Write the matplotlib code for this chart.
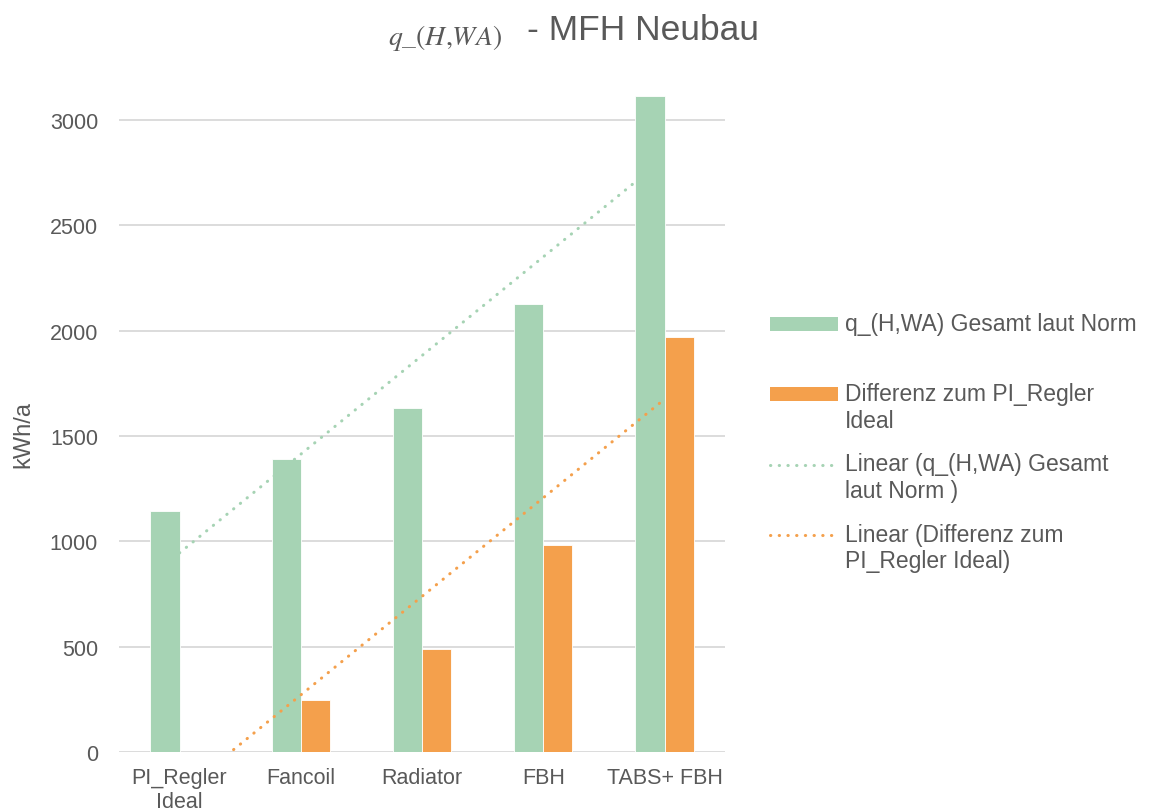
import numpy as np
import matplotlib
matplotlib.use("Agg")
import matplotlib.pyplot as plt
from matplotlib.patches import Patch
from matplotlib.lines import Line2D

plt.rcParams["font.family"] = ["Liberation Sans", "DejaVu Sans"]
plt.rcParams["mathtext.fontset"] = "stix"

# heating demand per controller / system variant
categories = ["PI_Regler\nIdeal", "Fancoil", "Radiator", "FBH", "TABS+ FBH"]
q_gesamt = [1142, 1389, 1634, 2128, 3114]
q_differenz = [0, 247, 490, 984, 1971]
yticks = [0, 500, 1000, 1500, 2000, 2500, 3000]

GREEN = "#A6D3B4"
ORANGE = "#F4A04C"
GREY = "#595959"
GRID = "#D9D9D9"

fig = plt.figure(figsize=(11.58, 8.12), dpi=100)
ax = fig.add_axes([0.1027, 0.0727, 0.5235, 0.8096])

x = np.arange(len(categories))
w = 0.24
ax.bar(x - w / 2, q_gesamt, width=w, color=GREEN, edgecolor="white", linewidth=0.6, zorder=2)
ax.bar(x + w / 2, q_differenz, width=w, color=ORANGE, edgecolor="white", linewidth=0.6, zorder=2)

# linear trend lines (least squares over category index)
dots = (0, (0.1, 2.75))
lw_trend = 2.2
for vals, col in [(q_gesamt, GREEN), (q_differenz, ORANGE)]:
    k, d = np.polyfit(x, vals, 1)
    ax.plot(x, k * x + d, color=col, linewidth=lw_trend, linestyle=dots,
            dash_capstyle="round", zorder=3)

ax.set_xlim(-0.5, 4.5)
ax.set_ylim(0, 3120)
ax.set_yticks(yticks)
ax.set_xticks(x)
ax.set_xticklabels(categories)
ax.yaxis.grid(True, color=GRID, linewidth=1.3, zorder=0)
ax.set_axisbelow(True)
for s in ax.spines.values():
    s.set_visible(False)
ax.tick_params(axis="both", length=0, labelsize=15.5, labelcolor=GREY)
ax.tick_params(axis="y", pad=15)
ax.tick_params(axis="x", pad=11)
for lbl in ax.get_xticklabels():
    lbl.set_linespacing(1.15)

ax.set_ylabel("kWh/a", fontsize=17, color=GREY)
ax.yaxis.set_label_coords(-0.14, 0.485)

# title: formula part plus plain text
fig.text(502 / 1158, 1 - 45 / 812, r"$q\_(H{,}WA)$", fontsize=20, color=GREY,
         ha="right", va="baseline")
fig.text(527 / 1158, 1 - 40 / 812, "- MFH Neubau", fontsize=25.5, color=GREY,
         ha="left", va="baseline")

handles = [
    Patch(facecolor=GREEN),
    Patch(facecolor=ORANGE),
    Line2D([0], [0], color=GREEN, linewidth=lw_trend, linestyle=dots, dash_capstyle="round"),
    Line2D([0], [0], color=ORANGE, linewidth=lw_trend, linestyle=dots, dash_capstyle="round"),
]
labels = [
    "q_(H,WA) Gesamt laut Norm\n ",
    "Differenz zum PI_Regler\nIdeal",
    "Linear (q_(H,WA) Gesamt\nlaut Norm )",
    "Linear (Differenz zum\nPI_Regler Ideal)",
]
fs = 16.5
leg = fig.legend(handles, labels, loc="upper left", bbox_to_anchor=(770 / 1158, 1 - 313 / 812),
                 frameon=False, fontsize=fs, handlelength=2.97, handleheight=0.55,
                 handletextpad=0.3, labelspacing=0.9, borderpad=0, borderaxespad=0,
                 labelcolor=GREY)
# put each legend key next to the first line of its label
shift = 0.6 * fs
for h in leg.legend_handles:
    if isinstance(h, Line2D):
        h.set_ydata(np.asarray(h.get_ydata()) + shift)
    else:
        h.set_y(h.get_y() + shift)

fig.savefig("out.png", dpi=100)
